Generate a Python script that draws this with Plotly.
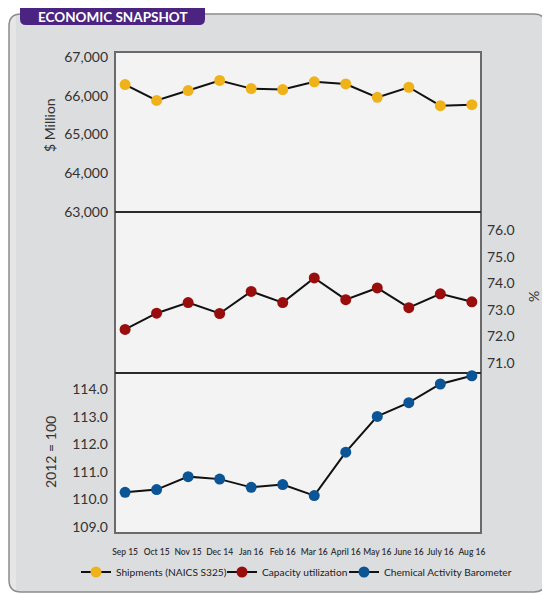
import plotly.graph_objects as go

# data
months = ["Sep 15", "Oct 15", "Nov 15", "Dec 14", "Jan 16", "Feb 16",
          "Mar 16", "April 16", "May 16", "June 16", "July 16", "Aug 16"]
shipments = [66290, 65880, 66135, 66395, 66185, 66160,
             66360, 66305, 65960, 66220, 65745, 65770]
capacity = [72.26, 72.87, 73.27, 72.86, 73.69, 73.27,
            74.20, 73.38, 73.82, 73.08, 73.60, 73.30]
cab = [110.26, 110.36, 110.83, 110.74, 110.44, 110.54,
       110.14, 111.72, 113.02, 113.52, 114.20, 114.50]

ship_ticks = [63000, 64000, 65000, 66000, 67000]
cap_ticks = [71, 72, 73, 74, 75, 76]
cab_ticks = [109, 110, 111, 112, 113, 114]

YELLOW = "#f0b21a"
RED = "#9a0d0d"
BLUE = "#0b5496"
FONT = "Lato, 'Open Sans', sans-serif"

# the page body adds an 8px margin, so the figure is drawn 8px smaller
OFF = 8
W, H = 550 - OFF, 595 - OFF
# plot area in reference pixels: x 115..481, y 52..533
L, R, T, B = 115, 481, 52, 533


def px(x):
    return (x - L) / (R - L)


def py(y):
    return (B - y) / (B - T)


def rounded(x0, y0, x1, y1, rl, rr=None):
    # rounded rectangle path in paper coords, from pixel corners
    # rl: radius of left corners, rr: radius of right corners
    if rr is None:
        rr = rl
    pts = [
        f"M {px(x0 + rl)},{py(y0)}",
        f"L {px(x1 - rr)},{py(y0)}",
        f"Q {px(x1)},{py(y0)} {px(x1)},{py(y0 + rr)}",
        f"L {px(x1)},{py(y1 - rr)}",
        f"Q {px(x1)},{py(y1)} {px(x1 - rr)},{py(y1)}",
        f"L {px(x0 + rl)},{py(y1)}",
        f"Q {px(x0)},{py(y1)} {px(x0)},{py(y1 - rl)}",
        f"L {px(x0)},{py(y0 + rl)}",
        f"Q {px(x0)},{py(y0)} {px(x0 + rl)},{py(y0)}",
        "Z",
    ]
    return " ".join(pts)


d1 = (B - 212) / (B - T)
d2 = (B - 373) / (B - T)

fig = go.Figure()
line = dict(color="#111111", width=2)
names = ["Shipments (NAICS S325)", "Capacity utilization", "Chemical Activity Barometer"]
fig.add_trace(go.Scatter(x=months, y=shipments, yaxis="y", mode="lines+markers",
                         name=names[0], line=line, cliponaxis=False, legend="legend",
                         marker=dict(color=YELLOW, size=11)))
fig.add_trace(go.Scatter(x=months, y=capacity, yaxis="y2", mode="lines+markers",
                         name=names[1], line=line, cliponaxis=False, legend="legend2",
                         marker=dict(color=RED, size=11)))
fig.add_trace(go.Scatter(x=months, y=cab, yaxis="y3", mode="lines+markers",
                         name=names[2], line=line, cliponaxis=False, legend="legend3",
                         marker=dict(color=BLUE, size=11)))

shapes = [
    # outer grey panel, lighter strip on the left
    dict(type="path", xref="paper", yref="paper", path=rounded(9, 14, 546, 592, 12),
         fillcolor="#e6e6e7", line=dict(width=0), layer="below"),
    dict(type="path", xref="paper", yref="paper", path=rounded(16, 14.5, 546, 591.5, 0, 12),
         fillcolor="#dcdddf", line=dict(width=0), layer="below"),
    dict(type="path", xref="paper", yref="paper", path=rounded(9, 14, 546, 592, 12),
         line=dict(color="#8c8c8c", width=1.5), layer="below"),
    # plot area fill
    dict(type="rect", xref="paper", yref="paper", x0=0, x1=1, y0=0, y1=1,
         fillcolor="#f3f3f3", line=dict(width=0), layer="below"),
    # frame
    dict(type="rect", xref="paper", yref="paper", x0=0, x1=1, y0=0, y1=1,
         line=dict(color="#6a6a6a", width=2), layer="below"),
    dict(type="line", xref="paper", yref="paper", x0=0, x1=1, y0=d1, y1=d1,
         line=dict(color="#2a2a2a", width=2), layer="below"),
    dict(type="line", xref="paper", yref="paper", x0=0, x1=1, y0=d2, y1=d2,
         line=dict(color="#2a2a2a", width=2), layer="below"),
    # title badge
    dict(type="path", xref="paper", yref="paper", path=rounded(20, 2, 205, 25, 6),
         fillcolor="#4b2380", line=dict(width=0), layer="above"),
]

annotations = [
    dict(text="ECONOMIC SNAPSHOT", x=px(112.5), y=py(17), xref="paper", yref="paper",
         xanchor="center", yanchor="middle", showarrow=False,
         font=dict(family=FONT, size=13.5, color="white", weight="bold")),
    dict(text="$ Million", x=px(50), y=py(125), xref="paper", yref="paper",
         xanchor="center", yanchor="middle", showarrow=False, textangle=-90,
         font=dict(family=FONT, size=14, color="#333")),
    dict(text="%", x=px(533), y=py(297), xref="paper", yref="paper",
         xanchor="center", yanchor="middle", showarrow=False, textangle=-90,
         font=dict(family=FONT, size=14, color="#333")),
    dict(text="2012 = 100", x=px(50), y=py(452), xref="paper", yref="paper",
         xanchor="center", yanchor="middle", showarrow=False, textangle=-90,
         font=dict(family=FONT, size=14, color="#333")),
]

tickfont = dict(family=FONT, size=14, color="#333")
legfont = dict(family=FONT, size=10.2, color="#222")


def leg(xpix):
    # xpix: left edge of the legend entry in reference pixels
    return dict(orientation="h", xref="container", x=(xpix - OFF) / W, xanchor="left",
                yref="container", y=(595 - 572) / H, yanchor="middle",
                font=legfont, itemwidth=30, bgcolor="rgba(0,0,0,0)")


fig.update_layout(
    width=W, height=H,
    margin=dict(l=L - OFF, r=550 - R, t=T - OFF, b=595 - B, autoexpand=False),
    paper_bgcolor="white",
    plot_bgcolor="rgba(0,0,0,0)",
    font=dict(family=FONT, color="#333"),
    shapes=shapes,
    annotations=annotations,
    showlegend=True,
    legend=leg(76), legend2=leg(222), legend3=leg(344),
    xaxis=dict(anchor="y3", type="category", range=[-0.32, 11.29], showgrid=False,
               zeroline=False, showline=False, ticks="", ticklabelstandoff=12,
               tickangle=0, automargin=False,
               tickfont=dict(family=FONT, size=8.5, color="#333", weight=600)),
    yaxis=dict(domain=[d1, 1], range=[63000, 67130], tickvals=ship_ticks,
               tickformat=",", showgrid=False, zeroline=False, showline=False,
               ticks="", ticklabelstandoff=6, tickfont=tickfont, automargin=False),
    yaxis2=dict(domain=[d2, d1], range=[70.62, 76.68], tickvals=cap_ticks,
                tickformat=".1f", side="right", anchor="x", showgrid=False,
                zeroline=False, showline=False, ticks="", ticklabelstandoff=5,
                tickfont=tickfont, automargin=False),
    yaxis3=dict(domain=[0, d2], range=[108.78, 114.6], tickvals=cab_ticks,
                tickformat=".1f", showgrid=False, zeroline=False, showline=False,
                ticks="", ticklabelstandoff=6, tickfont=tickfont, automargin=False),
)

fig.write_html("out.html")
